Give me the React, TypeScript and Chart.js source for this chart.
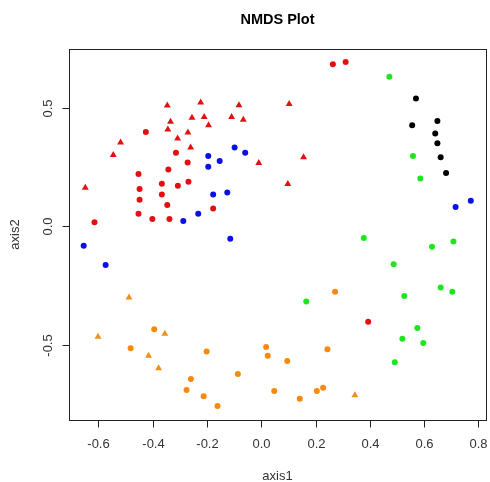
import React, { useEffect, useRef } from "react";
import { Chart, registerables } from "chart.js";

Chart.register(...registerables);

const chartTitle = "NMDS Plot";
const xTitle = "axis1";
const yTitle = "axis2";
const xTicks = [-0.6, -0.4, -0.2, 0.0, 0.2, 0.4, 0.6, 0.8];
const yTicks = [-0.5, 0.0, 0.5];

// red triangles
const redTriX = [-0.346, -0.223, -0.082, -0.334, -0.255, -0.21, -0.109, -0.066, -0.344, -0.27, -0.194, -0.308, -0.26, -0.518, -0.545, -0.009, -0.648, 0.103, 0.156, 0.098];
const redTriY = [0.51, 0.522, 0.511, 0.441, 0.458, 0.461, 0.461, 0.45, 0.409, 0.396, 0.427, 0.371, 0.333, 0.354, 0.301, 0.267, 0.163, 0.516, 0.292, 0.179];
// red circles
const redX = [-0.425, -0.314, -0.271, -0.342, -0.452, -0.366, -0.307, -0.268, -0.448, -0.366, -0.448, -0.346, -0.452, -0.401, -0.338, -0.177, -0.614, 0.264, 0.311, 0.394];
const redY = [0.398, 0.311, 0.27, 0.24, 0.221, 0.18, 0.172, 0.188, 0.158, 0.135, 0.113, 0.09, 0.054, 0.031, 0.031, 0.076, 0.018, 0.684, 0.693, -0.402];
// blue circles
const blueX = [-0.098, -0.059, -0.195, -0.153, -0.195, -0.125, -0.177, -0.232, -0.287, -0.114, -0.654, -0.573, 0.716, 0.772];
const blueY = [0.333, 0.311, 0.297, 0.276, 0.252, 0.143, 0.135, 0.054, 0.023, -0.052, -0.081, -0.163, 0.082, 0.108];
// black circles
const blackX = [0.57, 0.556, 0.649, 0.641, 0.649, 0.661, 0.681];
const blackY = [0.539, 0.427, 0.445, 0.392, 0.351, 0.292, 0.225];
// green circles
const greenX = [0.472, 0.559, 0.586, 0.378, 0.629, 0.708, 0.488, 0.661, 0.704, 0.527, 0.166, 0.575, 0.52, 0.597, 0.492];
const greenY = [0.631, 0.297, 0.202, -0.049, -0.086, -0.064, -0.159, -0.257, -0.275, -0.293, -0.316, -0.428, -0.473, -0.491, -0.573];
// orange circles
const orangeX = [0.272, 0.244, 0.096, 0.048, 0.142, 0.205, 0.228, 0.018, 0.024, -0.394, -0.481, -0.201, -0.259, -0.275, -0.212, -0.161, -0.086];
const orangeY = [-0.275, -0.518, -0.567, -0.694, -0.726, -0.694, -0.68, -0.508, -0.545, -0.433, -0.514, -0.527, -0.643, -0.69, -0.716, -0.757, -0.622];
// orange triangles
const orangeTriX = [0.345, -0.487, -0.601, -0.355, -0.415, -0.378];
const orangeTriY = [-0.712, -0.3, -0.465, -0.452, -0.545, -0.598];

const toPts = (xs: number[], ys: number[]) => xs.map((x, i) => ({ x, y: ys[i] }));

export default function App() {
  const ref = useRef<HTMLCanvasElement | null>(null);
  useEffect(() => {
    if (!ref.current) return;
    const font = "Arial, 'Liberation Sans', sans-serif";
    const decor = {
      id: "rdecor",
      afterDraw(chart: any) {
        const { ctx, chartArea: a, scales } = chart;
        const xs = scales.x;
        const ys = scales.y;
        ctx.save();
        ctx.strokeStyle = "#222";
        ctx.lineWidth = 1;
        ctx.strokeRect(Math.round(a.left) + 0.5, Math.round(a.top) + 0.5, Math.round(a.right - a.left), Math.round(a.bottom - a.top));
        ctx.fillStyle = "#333";
        ctx.font = `13px ${font}`;
        ctx.textAlign = "center";
        ctx.textBaseline = "middle";
        const bottom = Math.round(a.bottom) + 0.5;
        xTicks.forEach((t) => {
          const px = Math.round(xs.getPixelForValue(t)) + 0.5;
          ctx.beginPath();
          ctx.moveTo(px, bottom);
          ctx.lineTo(px, bottom + 7);
          ctx.stroke();
          ctx.fillText(t.toFixed(1), px, bottom + 24);
        });
        const left = Math.round(a.left) + 0.5;
        yTicks.forEach((t) => {
          const py = Math.round(ys.getPixelForValue(t)) + 0.5;
          ctx.beginPath();
          ctx.moveTo(left, py);
          ctx.lineTo(left - 7, py);
          ctx.stroke();
          ctx.save();
          ctx.translate(left - 21, py);
          ctx.rotate(-Math.PI / 2);
          ctx.fillText(t.toFixed(1), 0, 0);
          ctx.restore();
        });
        ctx.fillText(xTitle, (a.left + a.right) / 2, 476);
        ctx.save();
        ctx.translate(15, (a.top + a.bottom) / 2);
        ctx.rotate(-Math.PI / 2);
        ctx.fillText(yTitle, 0, 0);
        ctx.restore();
        ctx.fillStyle = "#000";
        ctx.font = `bold 14.5px ${font}`;
        ctx.fillText(chartTitle, (a.left + a.right) / 2, 20);
        ctx.restore();
      },
    };
    const mk = (label: string, data: any[], color: string, style: string) => ({
      label,
      data,
      backgroundColor: color,
      borderColor: color,
      borderWidth: 0,
      pointStyle: style,
      pointRadius: style === "triangle" ? 4 : 3,
    });
    const chart = new Chart(ref.current, {
      type: "scatter",
      data: {
        datasets: [
          mk("redTri", toPts(redTriX, redTriY), "#e31010", "triangle"),
          mk("red", toPts(redX, redY), "#e31010", "circle"),
          mk("blue", toPts(blueX, blueY), "#0a10e6", "circle"),
          mk("black", toPts(blackX, blackY), "#000000", "circle"),
          mk("green", toPts(greenX, greenY), "#1ee61e", "circle"),
          mk("orange", toPts(orangeX, orangeY), "#f78a0c", "circle"),
          mk("orangeTri", toPts(orangeTriX, orangeTriY), "#ee9020", "triangle"),
        ],
      },
      options: {
        animation: false,
        responsive: false,
        devicePixelRatio: 1,
        layout: { padding: { left: 69, right: 3, top: 49, bottom: 62 } },
        plugins: { legend: { display: false }, tooltip: { enabled: false }, title: { display: false } },
        scales: {
          x: { type: "linear", display: false, min: -0.708, max: 0.828 },
          y: { type: "linear", display: false, min: -0.816, max: 0.748 },
        },
      },
      plugins: [decor],
    } as any);
    return () => chart.destroy();
  }, []);
  return (
    <div style={{ position: "absolute", left: 0, top: 0, width: 490, height: 482, background: "#fff" }}>
      <canvas ref={ref} width={490} height={482} style={{ width: 490, height: 482, display: "block" }} />
    </div>
  );
}
